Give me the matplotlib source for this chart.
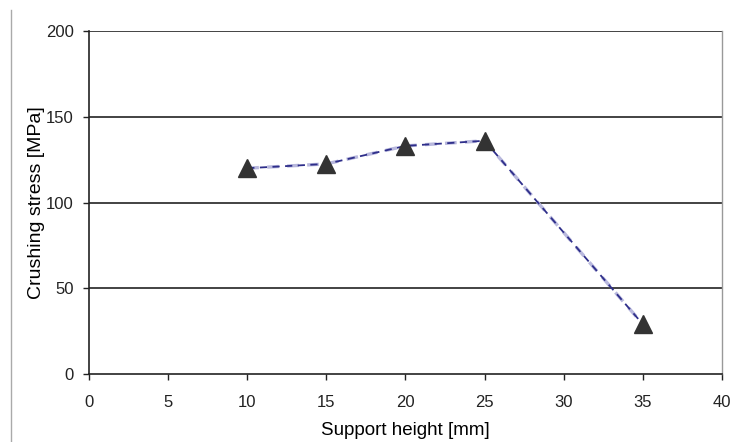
import numpy as np
import matplotlib.pyplot as plt
from matplotlib.lines import Line2D

plt.rcParams['font.family'] = ['Liberation Sans', 'DejaVu Sans']

height = [10, 15, 20, 25, 35]
stress = [120, 122.5, 133, 136, 29]
xticks = [0, 5, 10, 15, 20, 25, 30, 35, 40]
yticks = [0, 50, 100, 150, 200]

fig = plt.figure(figsize=(7.3, 4.42), dpi=100)
ax = fig.add_axes([0.1219, 0.1538, 0.8671, 0.7761])

for y in yticks[1:]:
    ax.axhline(y, color='#222222', lw=1.2, zorder=1)

# dashed line with a faint halo, like the scanned original
ax.plot(height, stress, ls='--', color='#b8b8dd', lw=2.4, dashes=(3.5, 2.5), zorder=2)
ax.plot(height, stress, ls='--', color='#2e2e8a', lw=1.3, dashes=(4, 3), zorder=3)
ax.plot(height, stress, ls='none', marker='^', ms=12.5, color='#333333', zorder=4)

ax.set(xlim=(0, 40), ylim=(0, 200))
ax.set_xticks(xticks)
ax.set_yticks(yticks)
ax.tick_params(direction='out', length=4.3, width=1, labelsize=12, colors='#222222')
ax.tick_params(axis='x', pad=10.5)
ax.tick_params(axis='y', pad=6.5)
for s in ['left', 'bottom']:
    ax.spines[s].set_color('#222222')
    ax.spines[s].set_linewidth(1.2)
ax.spines['top'].set_visible(False)
ax.spines['right'].set_color('#999999')
ax.spines['right'].set_linewidth(1)
ax.set_xlabel('Support height [mm]', fontsize=13.5, labelpad=9)
ax.set_ylabel('Crushing stress [MPa]', fontsize=14, labelpad=1)

fig.add_artist(Line2D([11/730, 11/730], [0, 432/442], color='#aaaaaa', lw=1))

fig.savefig('out.png', dpi=100)
